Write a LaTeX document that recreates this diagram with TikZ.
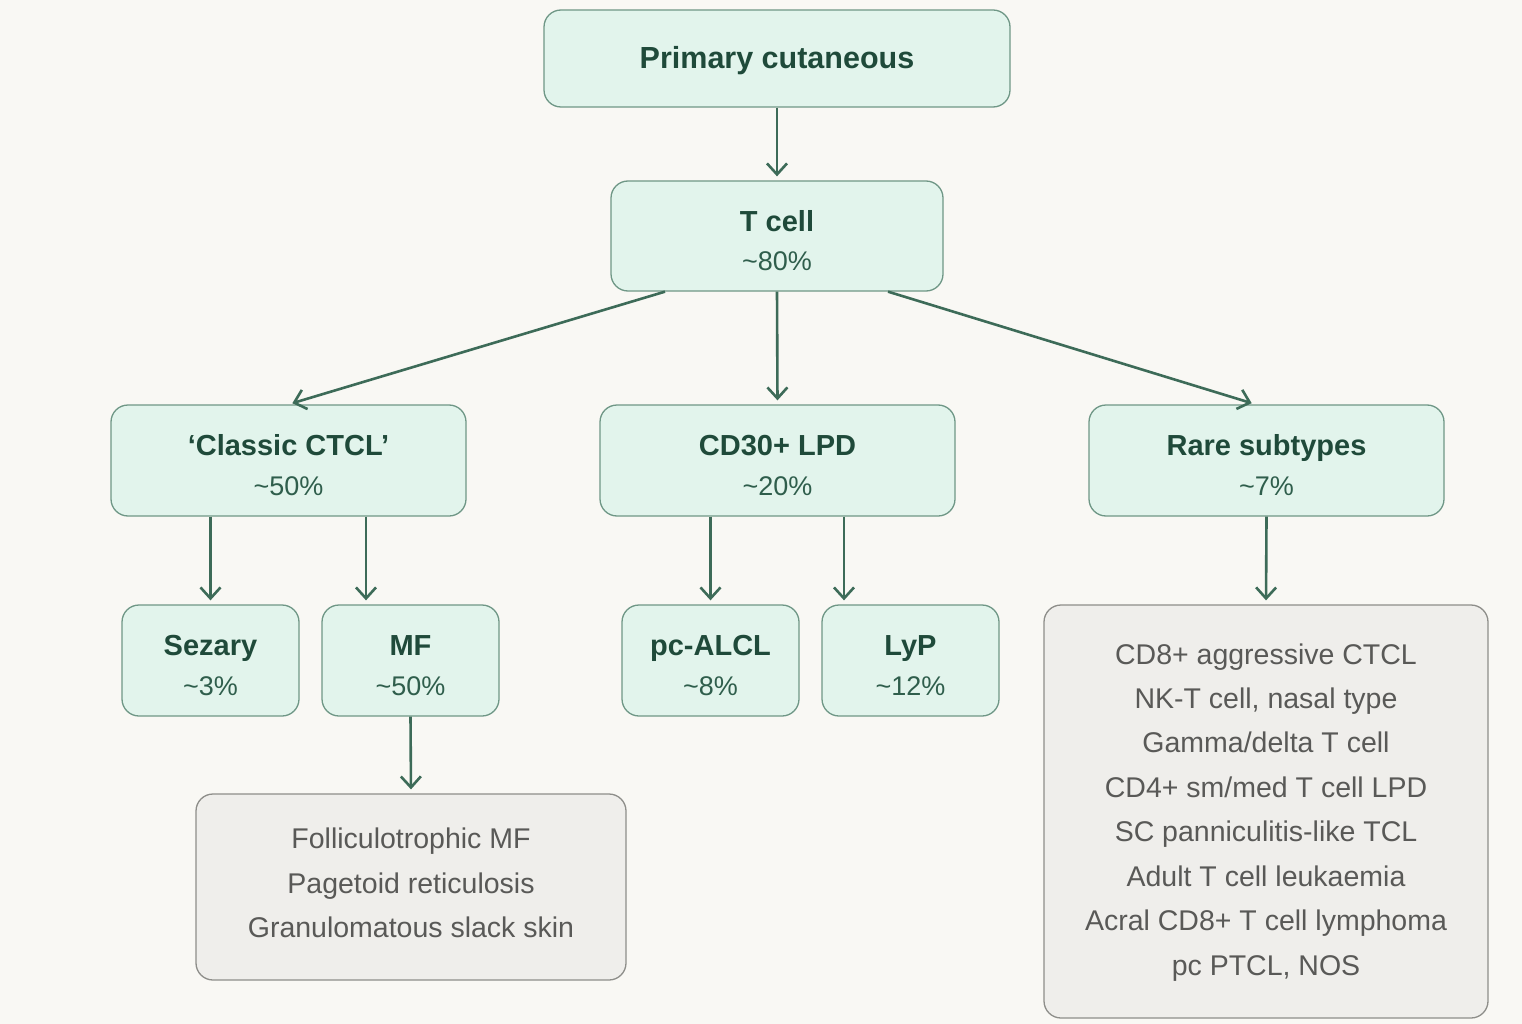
\documentclass[tikz,border=0pt]{standalone}
\usepackage{fontspec}
\setmainfont{Liberation Sans}
\usetikzlibrary{arrows.meta}
\definecolor{bg}{HTML}{F9F8F4}
\definecolor{gfill}{HTML}{E2F4EC}
\definecolor{gline}{HTML}{6F9786}
\definecolor{gtext}{HTML}{1F4A3A}
\definecolor{ptext}{HTML}{2F5E4C}
\definecolor{arrcol}{HTML}{3D6B58}
\definecolor{xfill}{HTML}{EFEEEB}
\definecolor{xline}{HTML}{8E8E8A}
\definecolor{xtext}{HTML}{595957}
\begin{document}
\begin{tikzpicture}[x=1pt,y=-1pt,
  gbox/.style={draw=gline, fill=gfill, line width=1.3pt, rounded corners=17pt, inner sep=0pt},
  xbox/.style={draw=xline, fill=xfill, line width=1.3pt, rounded corners=17pt, inner sep=0pt},
  bigttl/.style={anchor=base, inner sep=0pt, text=gtext, font=\bfseries\fontsize{30.5}{36}\selectfont},
  ttl/.style={anchor=base, inner sep=0pt, text=gtext, font=\bfseries\fontsize{29}{33}\selectfont},
  pct/.style={anchor=base, inner sep=0pt, text=ptext, font=\fontsize{27}{30}\selectfont},
  itm/.style={anchor=base, inner sep=0pt, text=xtext, font=\fontsize{28.5}{32}\selectfont},
  arr/.style={draw=arrcol, line width=2.6pt, shorten >=4pt, -{Straight Barb[length=11pt,width=20pt]}}
]
\fill[bg] (0,0) rectangle (1522,1024);
\useasboundingbox (0,0) rectangle (1522,1024);

% boxes
\node[gbox, minimum width=466, minimum height=97] (primary) at (777,58.5) {};
\node[gbox, minimum width=332, minimum height=110] (tcell) at (777,236) {};
\node[gbox, minimum width=355, minimum height=111] (classic) at (288.5,460.5) {};
\node[gbox, minimum width=355, minimum height=111] (cd30) at (777.5,460.5) {};
\node[gbox, minimum width=355, minimum height=111] (rare) at (1266.5,460.5) {};
\node[gbox, minimum width=177, minimum height=111] (sezary) at (210.5,660.5) {};
\node[gbox, minimum width=177, minimum height=111] (mf) at (410.5,660.5) {};
\node[gbox, minimum width=177, minimum height=111] (pcalcl) at (710.5,660.5) {};
\node[gbox, minimum width=177, minimum height=111] (lyp) at (910.5,660.5) {};
\node[xbox, minimum width=430, minimum height=186] (mflist) at (411,887) {};
\node[xbox, minimum width=444, minimum height=413] (rarelist) at (1266,811.5) {};

% texts
\node[bigttl] (primary-t) at (777,69) {Primary cutaneous};
\node[ttl] (tcell-t) at (777,231.5) {T cell};
\node[pct] (tcell-p) at (777,270.5) {\textasciitilde 80\%};
\node[ttl] (classic-t) at (288.5,455.5) {`Classic CTCL'};
\node[pct] (classic-p) at (288.5,495.5) {\textasciitilde 50\%};
\node[ttl] (cd30-t) at (777.5,455.5) {CD30+ LPD};
\node[pct] (cd30-p) at (777.5,495.5) {\textasciitilde 20\%};
\node[ttl] (rare-t) at (1266.5,455.5) {Rare subtypes};
\node[pct] (rare-p) at (1266.5,495.5) {\textasciitilde 7\%};
\node[ttl] (sezary-t) at (210.5,655.5) {Sezary};
\node[pct] (sezary-p) at (210.5,695.5) {\textasciitilde 3\%};
\node[ttl] (mf-t) at (410.5,655.5) {MF};
\node[pct] (mf-p) at (410.5,695.5) {\textasciitilde 50\%};
\node[ttl] (pcalcl-t) at (710.5,655.5) {pc-ALCL};
\node[pct] (pcalcl-p) at (710.5,695.5) {\textasciitilde 8\%};
\node[ttl] (lyp-t) at (910.5,655.5) {LyP};
\node[pct] (lyp-p) at (910.5,695.5) {\textasciitilde 12\%};

\node[itm] (m1) at (411,848) {Folliculotrophic MF};
\node[itm] (m2) at (411,893) {Pagetoid reticulosis};
\node[itm] (m3) at (411,937) {Granulomatous slack skin};

\node[itm] (r1) at (1266,664) {CD8+ aggressive CTCL};
\node[itm] (r2) at (1266,708) {NK-T cell, nasal type};
\node[itm] (r3) at (1266,752) {Gamma/delta T cell};
\node[itm] (r4) at (1266,797) {CD4+ sm/med T cell LPD};
\node[itm] (r5) at (1266,841) {SC panniculitis-like TCL};
\node[itm] (r6) at (1266,886) {Adult T cell leukaemia};
\node[itm] (r7) at (1266,930) {Acral CD8+ T cell lymphoma};
\node[itm] (r8) at (1266,975) {pc PTCL, NOS};

% arrows
\draw[arr] (primary.south) -- (tcell.north);
\draw[arr] ([xshift=-112]tcell.south) -- (classic.north);
\draw[arr] (tcell.south) -- (cd30.north);
\draw[arr] ([xshift=111]tcell.south) -- ([xshift=-11]rare.north);
\draw[arr] (sezary.north |- classic.south) -- (sezary.north);
\draw[arr] ([xshift=77.5]classic.south) -- ([xshift=77.5]classic.south |- mf.north);
\draw[arr] (pcalcl.north |- cd30.south) -- (pcalcl.north);
\draw[arr] ([xshift=66.5]cd30.south) -- ([xshift=66.5]cd30.south |- lyp.north);
\draw[arr] (rare.south) -- (rarelist.north);
\draw[arr] (mf.south) -- (mflist.north);
\end{tikzpicture}
\end{document}
